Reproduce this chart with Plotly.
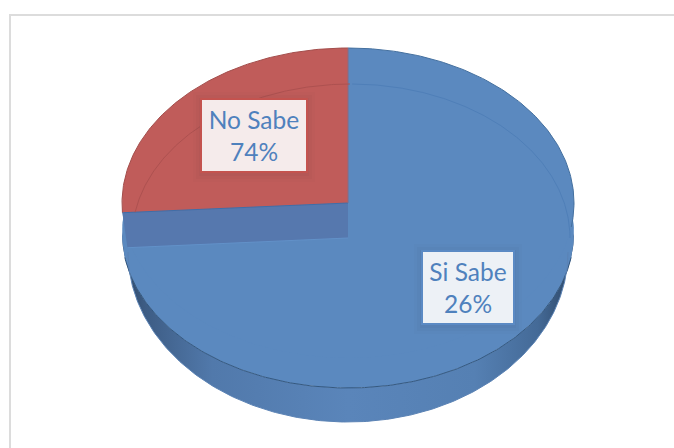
import numpy as np
import plotly.graph_objects as go

# Data (printed labels are as in the reference)
categories = ["No Sabe", "Si Sabe"]
slice_shares = [26, 74]        # drawn size of each slice
printed_percent = [74, 26]     # percentage printed in each label

# Styles and projection
RED, BLUE = "#c05c5a", "#5b89bf"
STRIP = "#5678ae"
CX = 348
TOP = dict(cy=203, rx=226, ry=155)
FACE = dict(cy=233, rx=226, ry=155)
BASE = dict(cy=252, rx=220, ry=170)
INNER = dict(cx=351, cy=238, rx=219, ry=154)
APEX_DROP = 35


def ell(e, a):
    """a: clockwise share angle in radians from 12 o'clock"""
    a = np.asarray(a, dtype=float)
    return e.get("cx", CX) + e["rx"] * np.sin(a), e["cy"] - e["ry"] * np.cos(a)


red_end = -2 * np.pi * slice_shares[0] / sum(slice_shares)   # counterclockwise from 12
fig = go.Figure()


def poly(x, y, fill, line=None, width=1, **kw):
    fig.add_trace(go.Scatter(
        x=list(x), y=list(y), mode="lines", fill="toself", fillcolor=fill,
        line=dict(color=line or "rgba(0,0,0,0)", width=width),
        hoverinfo="skip", showlegend=False, **kw))


def stroke(x, y, color, width=1):
    fig.add_trace(go.Scatter(x=list(x), y=list(y), mode="lines",
                             line=dict(color=color, width=width),
                             hoverinfo="skip", showlegend=False))


# Side wall of the disc
lo = np.linspace(np.pi * 0.5, np.pi * 1.5, 240)
bx, by = ell(BASE, lo)
fx, fy = ell(FACE, lo[::-1])
poly(np.r_[bx, fx], np.r_[by, fy], None,
     fillgradient=dict(type="horizontal", colorscale=[
         [0.0, "#2c4564"], [0.05, "#3d5c84"], [0.2, "#5179ab"], [0.5, "#5a85ba"],
         [0.78, "#5580b3"], [0.92, "#446a97"], [1.0, "#2c4564"]]))

# Front face
t = np.linspace(0, 2 * np.pi, 361)
poly(*ell(FACE, t), BLUE)

# Big slice on the upper surface
big = np.linspace(0, 2 * np.pi + red_end, 300)
sx, sy = ell(TOP, big)
poly(np.r_[CX, sx, CX], np.r_[TOP["cy"], sy, TOP["cy"]], BLUE)

# Cut wall showing under the small slice
ex, ey = ell(TOP, red_end)
gx, gy = ell(FACE, red_end)
poly([CX, ex, gx + 5, CX, CX], [TOP["cy"], ey, ey + APEX_DROP,
                                TOP["cy"] + APEX_DROP, TOP["cy"]], STRIP)
stroke([gx + 5, CX], [ey + APEX_DROP, TOP["cy"] + APEX_DROP], "#6291c8", 1)

# Small slice
small = np.linspace(red_end, 0, 150)
rx_, ry_ = ell(TOP, small)
poly(np.r_[CX, rx_, CX], np.r_[TOP["cy"], ry_, TOP["cy"]], RED)

# Outlines
stroke(rx_, ry_, "#a34e4c", 1)
stroke(*ell(TOP, big[big < np.pi * 0.55]), "#44709f", 1)
stroke([ex, CX], [ey, TOP["cy"]], "#3f6ea8", 1)
stroke([CX, CX], [TOP["cy"] - TOP["ry"], TOP["cy"]], "#8a6a80", 1)

# Reflection arc on the top surface
arc = np.linspace(-np.pi * 0.5, np.pi * 0.5, 300)
ax, ay = ell(INNER, arc)
mask_left = (arc < 0) & (ay < ey)
stroke(ax[mask_left], ay[mask_left], "#ad5150", 1)
right_arc = (arc >= 0) & (ay < 240)
stroke(ax[right_arc], ay[right_arc], "#4f7fb8", 1)

# Front rim and base edges
rim = lo[(lo > np.pi * 0.55) & (lo < np.pi * 1.45)]
stroke(*ell(FACE, rim), "#34587f", 1)
stroke(*ell(BASE, lo), "#5b83b5", 1)

# Label boxes
boxes = [
    dict(cx=254, cy=135, w=104, h=72, border="#c4534f", bg="#f5ebeb"),
    dict(cx=468, cy=287, w=90, h=72, border="#5b8ac4", bg="#edf1f6"),
]
shapes = [dict(type="path", layer="above", line=dict(color="#dcdcdc", width=2),
               path="M 10 448 L 10 15 L 674 15")]
annotations = []
for name, pct, b in zip(categories, printed_percent, boxes):
    for grow, alpha in [(9, 0.02), (6, 0.025), (3, 0.03)]:
        shapes.append(dict(type="rect", layer="above", line=dict(width=0),
                           fillcolor=f"rgba(30,30,50,{alpha})",
                           x0=b["cx"] - b["w"] / 2 - grow, x1=b["cx"] + b["w"] / 2 + grow,
                           y0=b["cy"] - b["h"] / 2 - grow + 2, y1=b["cy"] + b["h"] / 2 + grow + 2))
    annotations.append(dict(
        x=b["cx"], y=b["cy"], xref="x", yref="y", showarrow=False,
        text=f"{name}<br>{pct}%", align="center", valign="middle",
        width=b["w"], height=b["h"] - 1,
        bgcolor=b["bg"], bordercolor=b["border"], borderwidth=2, borderpad=0,
        font=dict(family="Lato", size=24.5, color="#4f81bd")))

fig.update_layout(
    width=674, height=448, margin=dict(l=0, r=0, t=0, b=0),
    paper_bgcolor="white", plot_bgcolor="white", showlegend=False,
    xaxis=dict(range=[0, 674], visible=False, fixedrange=True),
    yaxis=dict(range=[448, 0], visible=False, fixedrange=True),
    shapes=shapes, annotations=annotations,
)
fig.write_html("out.html", config=dict(displayModeBar=False),
               post_script="document.body.style.margin='0';document.body.style.overflow='hidden';")
